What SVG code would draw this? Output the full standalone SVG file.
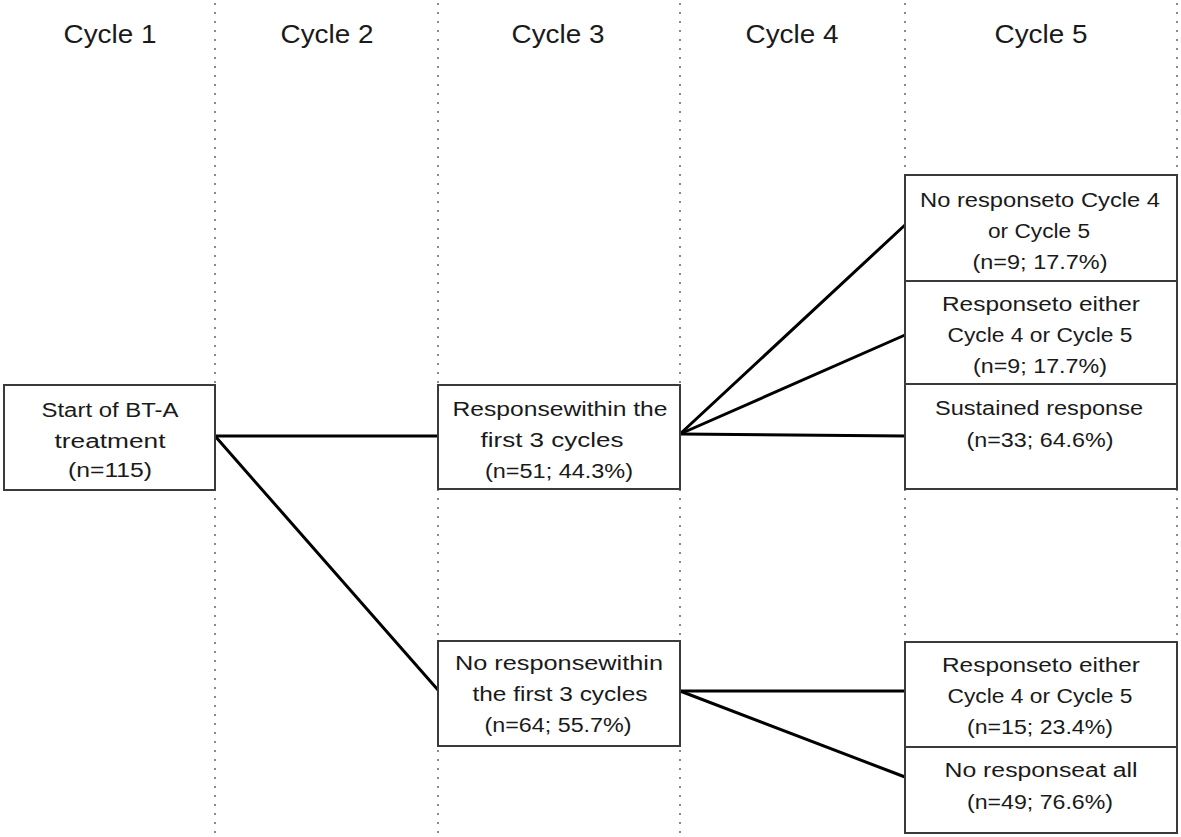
<svg xmlns="http://www.w3.org/2000/svg" width="1181" height="837" viewBox="0 0 1181 837">
<style>
.grid{stroke:#8a8a8a;stroke-width:2;stroke-dasharray:2 7;fill:none}
.box{fill:#ffffff;stroke:#3a3a3a;stroke-width:2}
.conn{stroke:#000000;stroke-width:3;fill:none;stroke-linecap:round}
.hdr{font-family:"Liberation Sans",Arial,sans-serif;font-size:25px;fill:#1a1a1a;text-anchor:middle}
.t{font-family:"Liberation Sans",Arial,sans-serif;font-size:20px;fill:#1a1a1a;text-anchor:middle}
</style>
<rect x="0" y="0" width="1181" height="837" fill="#ffffff"/>
<g id="gridlines">
<line class="grid" x1="215" y1="3" x2="215" y2="837"/>
<line class="grid" x1="438" y1="3" x2="438" y2="837"/>
<line class="grid" x1="680" y1="3" x2="680" y2="837"/>
<line class="grid" x1="905" y1="3" x2="905" y2="837"/>
<line class="grid" x1="1177" y1="3" x2="1177" y2="837"/>
</g>
<g id="headers">
<text class="hdr" x="110" y="43" textLength="93" lengthAdjust="spacingAndGlyphs">Cycle 1</text>
<text class="hdr" x="327" y="43" textLength="93" lengthAdjust="spacingAndGlyphs">Cycle 2</text>
<text class="hdr" x="558" y="43" textLength="93" lengthAdjust="spacingAndGlyphs">Cycle 3</text>
<text class="hdr" x="792" y="43" textLength="93" lengthAdjust="spacingAndGlyphs">Cycle 4</text>
<text class="hdr" x="1041" y="43" textLength="93" lengthAdjust="spacingAndGlyphs">Cycle 5</text>
</g>
<g id="connectors">
<line class="conn" x1="215" y1="436" x2="438" y2="436"/>
<line class="conn" x1="215" y1="436" x2="438" y2="690"/>
<line class="conn" x1="680" y1="434" x2="905" y2="225"/>
<line class="conn" x1="680" y1="434" x2="905" y2="335"/>
<line class="conn" x1="680" y1="434" x2="905" y2="436"/>
<line class="conn" x1="680" y1="691" x2="905" y2="691"/>
<line class="conn" x1="680" y1="691" x2="905" y2="777"/>
</g>
<g id="node-start">
<rect class="box" x="4" y="385" width="211" height="105"/>
<text class="t" x="110" y="417" textLength="137" lengthAdjust="spacingAndGlyphs">Start of BT-A</text>
<text class="t" x="110" y="448" textLength="111" lengthAdjust="spacingAndGlyphs">treatment</text>
<text class="t" x="110" y="477" textLength="84" lengthAdjust="spacingAndGlyphs">(n=115)</text>
</g>
<g id="node-response3">
<rect class="box" x="438" y="385" width="242" height="104"/>
<text class="t" x="560" y="416" textLength="215" lengthAdjust="spacingAndGlyphs">Responsewithin the</text>
<text class="t" x="552" y="447" textLength="143" lengthAdjust="spacingAndGlyphs">first 3 cycles</text>
<text class="t" x="559" y="478" textLength="148" lengthAdjust="spacingAndGlyphs">(n=51; 44.3%)</text>
</g>
<g id="node-noresponse3">
<rect class="box" x="438" y="641" width="242" height="105"/>
<text class="t" x="559" y="670" textLength="208" lengthAdjust="spacingAndGlyphs">No responsewithin</text>
<text class="t" x="560" y="701" textLength="175" lengthAdjust="spacingAndGlyphs">the first 3 cycles</text>
<text class="t" x="558" y="732" textLength="147" lengthAdjust="spacingAndGlyphs">(n=64; 55.7%)</text>
</g>
<g id="node-noresp45">
<rect class="box" x="905" y="175" width="272" height="106"/>
<text class="t" x="1040" y="207" textLength="240" lengthAdjust="spacingAndGlyphs">No responseto Cycle 4</text>
<text class="t" x="1039" y="238" textLength="102" lengthAdjust="spacingAndGlyphs">or Cycle 5</text>
<text class="t" x="1040" y="269" textLength="135" lengthAdjust="spacingAndGlyphs">(n=9; 17.7%)</text>
</g>
<g id="node-resp45a">
<rect class="box" x="905" y="281" width="272" height="103"/>
<text class="t" x="1041" y="311" textLength="198" lengthAdjust="spacingAndGlyphs">Responseto either</text>
<text class="t" x="1040" y="342" textLength="185" lengthAdjust="spacingAndGlyphs">Cycle 4 or Cycle 5</text>
<text class="t" x="1040" y="373" textLength="134" lengthAdjust="spacingAndGlyphs">(n=9; 17.7%)</text>
</g>
<g id="node-sustained">
<rect class="box" x="905" y="384" width="272" height="105"/>
<text class="t" x="1039" y="415" textLength="208" lengthAdjust="spacingAndGlyphs">Sustained response</text>
<text class="t" x="1040" y="447" textLength="147" lengthAdjust="spacingAndGlyphs">(n=33; 64.6%)</text>
</g>
<g id="node-resp45b">
<rect class="box" x="905" y="642" width="272" height="105"/>
<text class="t" x="1041" y="672" textLength="198" lengthAdjust="spacingAndGlyphs">Responseto either</text>
<text class="t" x="1040" y="703" textLength="185" lengthAdjust="spacingAndGlyphs">Cycle 4 or Cycle 5</text>
<text class="t" x="1040" y="734" textLength="146" lengthAdjust="spacingAndGlyphs">(n=15; 23.4%)</text>
</g>
<g id="node-noresp-all">
<rect class="box" x="905" y="747" width="272" height="86"/>
<text class="t" x="1041" y="777" textLength="193" lengthAdjust="spacingAndGlyphs">No responseat all</text>
<text class="t" x="1040" y="809" textLength="146" lengthAdjust="spacingAndGlyphs">(n=49; 76.6%)</text>
</g>
</svg>
